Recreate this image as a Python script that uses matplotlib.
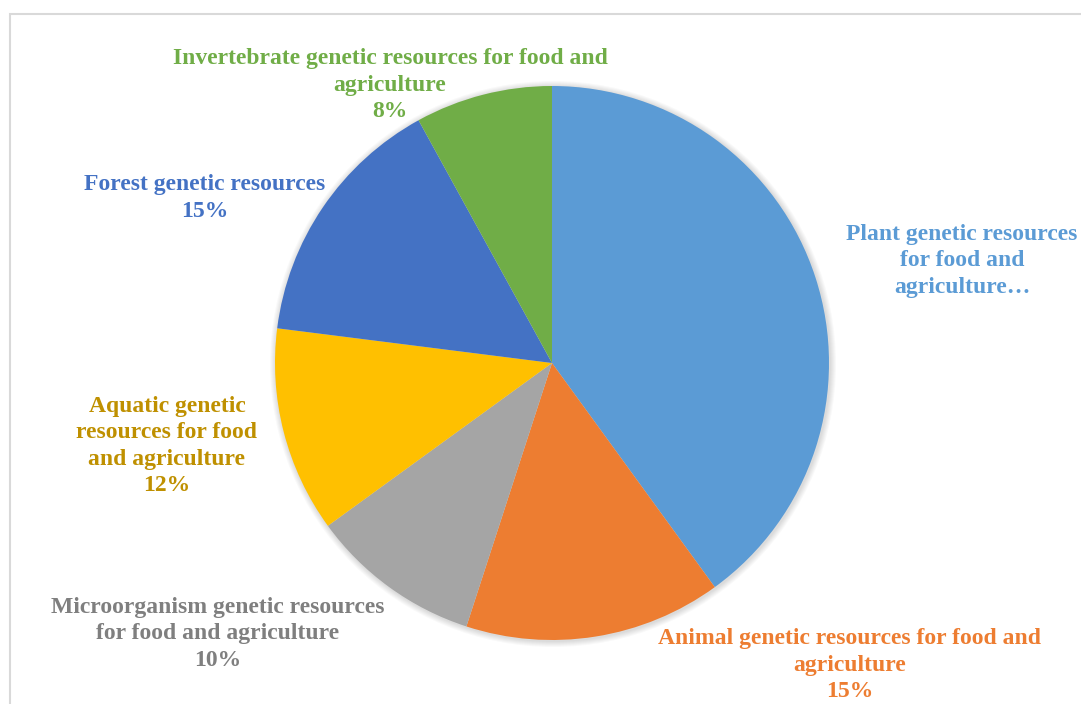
import matplotlib.pyplot as plt
from matplotlib.patches import Circle, Rectangle

# data
labels = ['Plant genetic resources\nfor food and\nagriculture…',
          'Animal genetic resources for food and\nagriculture\n15%',
          'Microorganism genetic resources\nfor food and agriculture\n10%',
          'Aquatic genetic\nresources for food\nand agriculture\n12%',
          'Forest genetic resources\n15%',
          'Invertebrate genetic resources for food and\nagriculture\n8%']
shares = [40, 15, 10, 12, 15, 8]
colors = ['#5B9BD5', '#ED7D31', '#A5A5A5', '#FFC000', '#4472C4', '#70AD47']
text_colors = ['#5B9BD5', '#ED7D31', '#7F7F7F', '#BF9000', '#4472C4', '#70AD47']
label_pos = [(962, 261), (850, 665), (218, 634), (167, 446), (205, 198), (390, 85)]

plt.rcParams['font.family'] = 'serif'
plt.rcParams['font.serif'] = ['Liberation Serif', 'DejaVu Serif']

W, H = 1081, 704
fig = plt.figure(figsize=(W / 100, H / 100), dpi=100)
ax = fig.add_axes([0, 0, 1, 1])

cx, cy, r = 552, H - 363, 277

# chart frame
ax.add_patch(Rectangle((10, -20), W + 20, H - 14 + 20, fill=False,
                       edgecolor='#D9D9D9', linewidth=1.5))

# soft shadow under the pie
for i in range(6, 0, -1):
    ax.add_patch(Circle((cx + 1, cy - 1), r + i, color='black', alpha=0.025,
                        linewidth=0))

ax.pie(shares, colors=colors, startangle=90, counterclock=False,
       center=(cx, cy), radius=r, frame=True,
       wedgeprops=dict(linewidth=0))
ax.set_xlim(0, W)
ax.set_ylim(0, H)
ax.set_aspect('equal')
ax.axis('off')

for text, (x, y), c in zip(labels, label_pos, text_colors):
    ax.text(x, H - y, text, ha='center', va='center', multialignment='center',
            color=c, fontsize=17, fontweight='bold', linespacing=1.32)

plt.savefig('out.png', dpi=100)
